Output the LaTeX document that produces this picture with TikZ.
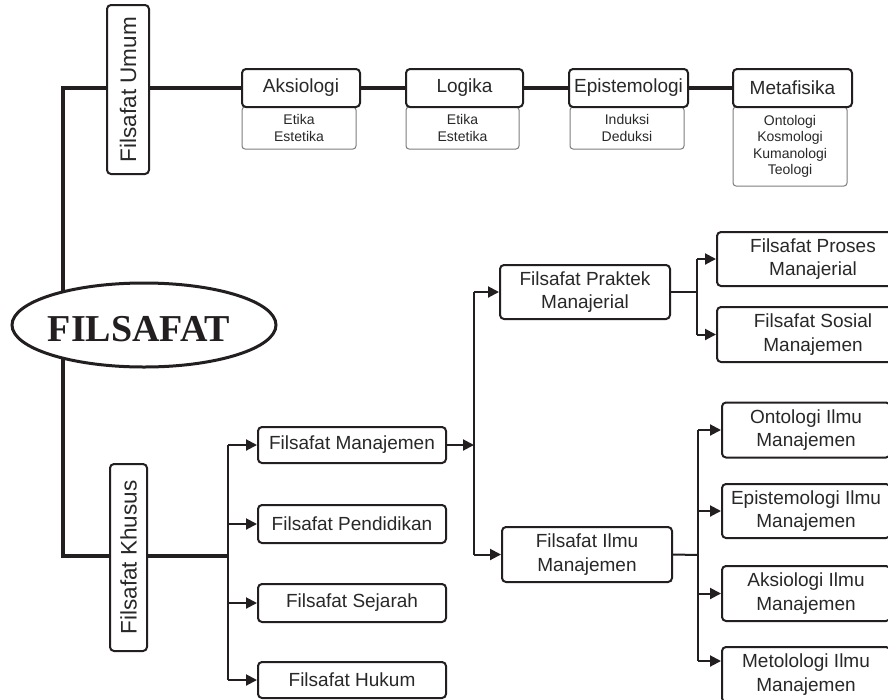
\documentclass[tikz,border=0pt]{standalone}
\usepackage{fontspec}
\setmainfont{Liberation Sans}
\newfontfamily\bigserif{Liberation Serif}
\usetikzlibrary{arrows.meta,shapes.geometric}
\definecolor{ink}{RGB}{35,31,32}
\definecolor{txt}{RGB}{40,40,40}
\definecolor{subgray}{RGB}{125,125,125}
\tikzset{
  mainbox/.style={draw=ink, line width=2pt, rounded corners=4pt, fill=white, text=txt,
    font=\fontsize{19}{23.5}\selectfont, align=center, inner sep=0pt},
  subbox/.style={draw=subgray, line width=1pt, rounded corners=3pt, fill=white, text=txt,
    font=\fontsize{14}{16.5}\selectfont, align=center, inner sep=0pt},
  sidebox/.style={mainbox, rotate=90, font=\fontsize{22.5}{26}\selectfont},
  thickline/.style={draw=ink, line width=4pt},
  thinline/.style={draw=ink, line width=2pt},
  arr/.style={thinline, -{Triangle[length=11pt,width=11pt]}},
}
\begin{document}
\begin{tikzpicture}[x=1pt,y=-1pt]
\useasboundingbox (0,0) rectangle (888,699);
\clip (0,0) rectangle (888,699);
\fill[white] (0,0) rectangle (888,699);

% coordinates of the trunk
\coordinate (ttop) at (63,88);
\coordinate (tbot) at (63,556);
\coordinate (kb) at (228,556);

% --- top branch ---
\node[subbox, minimum width=114, minimum height=42] (aks-s) at (299,128) {Etika\\Estetika};
\node[subbox, minimum width=113, minimum height=42] (log-s) at (462.5,128) {Etika\\Estetika};
\node[subbox, minimum width=114, minimum height=42] (epi-s) at (627,128) {Induksi\\Deduksi};
\node[subbox, minimum width=114, minimum height=79] (met-s) at (790,146.5) {Ontologi\\Kosmologi\\Kumanologi\\Teologi};

\node[mainbox, minimum width=118, minimum height=38] (aks) at (301,88) {Aksiologi};
\node[mainbox, minimum width=117, minimum height=38] (log) at (464.5,88) {Logika};
\node[mainbox, minimum width=119, minimum height=38] (epi) at (628.5,88) {Epistemologi};
\node[mainbox, minimum width=119, minimum height=38] (met) at (792.5,88) {Metafisika};

\node[sidebox, minimum width=169, minimum height=42] (umum) at (128,89.5) {Filsafat Umum};
\node[sidebox, minimum width=187, minimum height=37] (khusus) at (128.5,557.5) {Filsafat Khusus};

% rotated boxes: north = left side, south = right side
\draw[thickline] (umum.north |- ttop) -- (ttop) -- (tbot) -- (khusus.north |- tbot);
\draw[thickline] (umum.south |- aks) -- (aks.west);
\draw[thickline] (aks.east) -- (log.west);
\draw[thickline] (log.east) -- (epi.west);
\draw[thickline] (epi.east) -- (met.west);
\draw[thickline] (khusus.south |- kb) -- (kb);

% --- ellipse ---
\node[draw=ink, line width=3pt, fill=white, ellipse, minimum width=264, minimum height=84, inner sep=0pt] (fil) at (144,325) {};
\node[text=ink, font=\bigserif\bfseries\fontsize{38}{40}\selectfont, inner sep=0pt] (filt) at (139,329) {FILSAFAT};

% --- lower branch ---
\node[mainbox, minimum width=188, minimum height=36] (man) at (352,445) {Filsafat Manajemen};
\node[mainbox, minimum width=188, minimum height=38] (pen) at (352,524) {Filsafat Pendidikan};
\node[mainbox, minimum width=188, minimum height=38] (sej) at (352,603) {Filsafat Sejarah};
\node[mainbox, minimum width=188, minimum height=36] (huk) at (352,680) {Filsafat Hukum};

\draw[thinline] (kb |- man) -- (kb |- huk);
\draw[arr] (kb |- man) -- (man.west);
\draw[arr] (kb |- pen) -- (pen.west);
\draw[arr] (kb |- sej) -- (sej.west);
\draw[arr] (kb |- huk) -- (huk.west);

\node[mainbox, minimum width=170, minimum height=54] (pra) at (585,292) {Filsafat Praktek\\Manajerial};
\node[mainbox, minimum width=170, minimum height=55] (ilm) at (587,554.5) {Filsafat Ilmu\\Manajemen};

\coordinate (mv) at (474,445);
\draw[arr] (man.east) -- (mv);
\draw[thinline] (mv |- pra) -- (mv |- ilm);
\draw[arr] (mv |- pra) -- (pra.west);
\draw[arr] (mv |- ilm) -- (ilm.west);

\node[mainbox, minimum width=192, minimum height=54] (pro) at (813,259) {Filsafat Proses\\Manajerial};
\node[mainbox, minimum width=192, minimum height=55] (sos) at (813,334.5) {Filsafat Sosial\\Manajemen};

\coordinate (pv) at (697,292);
\draw[thinline] (pra.east) -- (pv);
\draw[thinline] (pv |- pro) -- (pv |- sos);
\draw[arr] (pv |- pro) -- (pro.west);
\draw[arr] (pv |- sos) -- (sos.west);

\node[mainbox, minimum width=168, minimum height=55] (ont) at (806,430) {Ontologi Ilmu\\Manajemen};
\node[mainbox, minimum width=168, minimum height=54] (eps) at (806,511) {Epistemologi Ilmu\\Manajemen};
\node[mainbox, minimum width=168, minimum height=55] (aki) at (806,593.5) {Aksiologi Ilmu\\Manajemen};
\node[mainbox, minimum width=168, minimum height=55] (mtl) at (806,674.5) {Metolologi Ilmu\\Manajemen};

\coordinate (iv) at (698,555);
\coordinate (mtla) at (698,661);
\draw[thinline] (ilm.east) -- (iv);
\draw[thinline] (iv |- ont) -- (mtla);
\draw[arr] (iv |- ont) -- (ont.west);
\draw[arr] (iv |- eps) -- (eps.west);
\draw[arr] (iv |- aki) -- (aki.west);
\draw[arr] (mtla) -- (mtla -| mtl.west);
\end{tikzpicture}
\end{document}
